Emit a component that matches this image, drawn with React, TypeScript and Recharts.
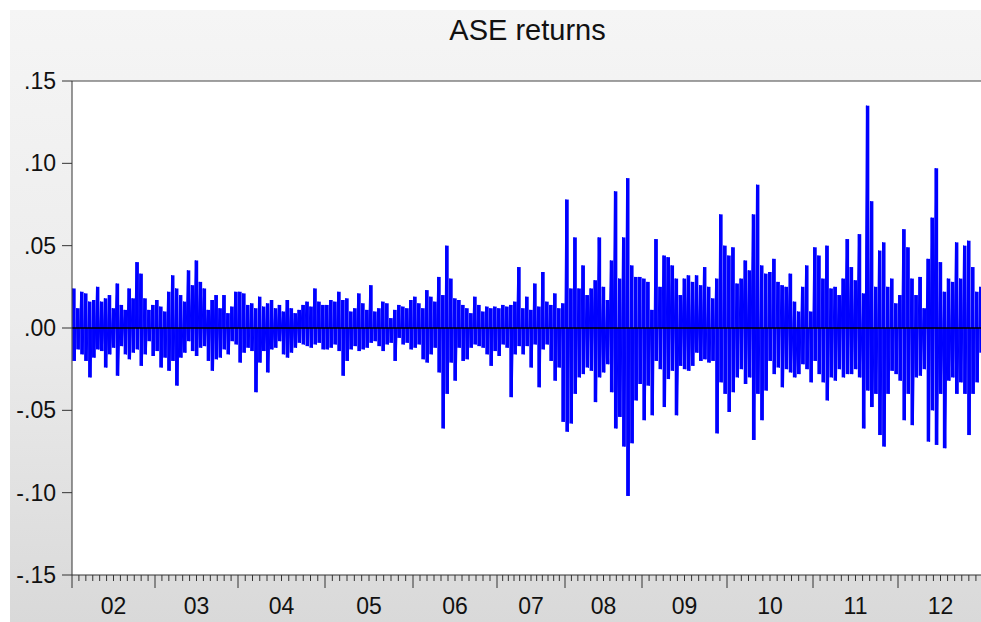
import { ComposedChart, Area, Bar, XAxis, YAxis, CartesianGrid, ReferenceLine } from 'recharts';

// year labels and trading-day counts per year (x axis is observation index)
const years = ['02', '03', '04', '05', '06', '07', '08', '09', '10', '11', '12'];
const yearObs = [249, 249, 261, 264, 252, 204, 231, 255, 258, 255, 255];

// per-year upper / lower swings of daily returns
const hi02 = [.024, .012, .022, .021, .016, .017, .025, .016, .018, .020, .012, .027, .014, .011, .024, .018, .040, .033, .018, .011, .014];
const lo02 = [-.020, -.013, -.016, -.020, -.030, -.018, -.013, -.014, -.024, -.016, -.012, -.029, -.011, -.016, -.019, -.015, -.013, -.023, -.016, -.008, -.017];
const hi03 = [.017, .013, .010, .022, .032, .024, .020, .016, .035, .026, .041, .028, .024, .011, .017, .020, .012, .020, .009, .013, .022];
const lo03 = [-.014, -.024, -.018, -.026, -.020, -.035, -.018, -.015, -.008, -.014, -.017, -.012, -.011, -.020, -.026, -.019, -.018, -.013, -.016, -.008, -.010];
const hi04 = [.022, .021, .014, .015, .012, .019, .013, .015, .017, .012, .014, .010, .017, .012, .009, .011, .014, .016, .013, .024, .016, .014];
const lo04 = [-.021, -.015, -.012, -.014, -.039, -.021, -.014, -.027, -.013, -.012, -.008, -.016, -.018, -.015, -.012, -.009, -.010, -.011, -.012, -.010, -.009, -.013];
const hi05 = [.014, .017, .016, .022, .017, .018, .010, .012, .021, .015, .011, .026, .010, .012, .016, .015, .006, .011, .014, .013, .012, .017];
const lo05 = [-.013, -.012, -.010, -.014, -.029, -.020, -.013, -.011, -.014, -.013, -.012, -.009, -.008, -.011, -.014, -.010, -.009, -.020, -.006, -.010, -.009, -.013];
const hi06 = [.019, .015, .012, .023, .019, .016, .031, .020, .050, .030, .018, .017, .014, .012, .009, .019, .014, .010, .013, .012, .013];
const lo06 = [-.012, -.010, -.019, -.021, -.016, -.012, -.027, -.061, -.040, -.021, -.032, -.012, -.020, -.019, -.012, -.010, -.011, -.012, -.016, -.023, -.014];
const hi07 = [.012, .014, .013, .014, .016, .037, .012, .019, .011, .027, .013, .034, .016, .014, .021, .012, .015];
const lo07 = [-.017, -.010, -.012, -.042, -.016, -.011, -.016, -.011, -.024, -.010, -.036, -.013, -.010, -.020, -.032, -.024, -.057];
const hi08 = [.078, .024, .055, .024, .038, .020, .024, .029, .055, .025, .017, .041, .083, .030, .055, .091, .038, .031, .031];
const lo08 = [-.063, -.058, -.040, -.030, -.028, -.024, -.026, -.045, -.030, -.027, -.022, -.039, -.061, -.054, -.072, -.102, -.070, -.044, -.034];
const hi09 = [.030, .028, .011, .054, .025, .044, .043, .038, .030, .020, .030, .032, .028, .032, .026, .037, .025, .018, .030, .069, .050];
const lo09 = [-.056, -.035, -.053, -.020, -.025, -.048, -.031, -.026, -.053, -.023, -.025, -.026, -.023, -.015, -.020, -.019, -.021, -.020, -.064, -.033, -.040];
const hi10 = [.044, .049, .027, .030, .041, .035, .069, .087, .038, .033, .034, .042, .028, .026, .025, .033, .016, .010, .025, .038, .010];
const lo10 = [-.051, -.039, -.030, -.025, -.034, -.030, -.068, -.040, -.056, -.038, -.020, -.028, -.024, -.036, -.025, -.027, -.030, -.028, -.022, -.025, -.033];
const hi11 = [.049, .044, .030, .050, .024, .025, .020, .030, .054, .037, .029, .057, .021, .135, .077, .025, .047, .052, .025, .030, .015];
const lo11 = [-.020, -.028, -.033, -.044, -.030, -.032, -.025, -.030, -.028, -.028, -.025, -.030, -.061, -.038, -.048, -.040, -.065, -.072, -.040, -.026, -.028];
const hi12 = [.020, .060, .049, .030, .020, .031, .012, .042, .067, .097, .040, .022, .030, .028, .052, .030, .050, .053, .037, .022, .025];
const lo12 = [-.032, -.056, -.040, -.059, -.030, -.029, -.025, -.069, -.050, -.071, -.040, -.073, -.032, -.030, -.040, -.033, -.040, -.065, -.040, -.033, -.015];

const yTicks = [-0.15, -0.1, -0.05, 0, 0.05, 0.1, 0.15];

const hiByYear = [hi02, hi03, hi04, hi05, hi06, hi07, hi08, hi09, hi10, hi11, hi12];
const loByYear = [lo02, lo03, lo04, lo05, lo06, lo07, lo08, lo09, lo10, lo11, lo12];

const yearStart: number[] = [];
let acc = 0;
yearObs.forEach((n) => { yearStart.push(acc); acc += n; });
const totalObs = acc;

// each segment: a range bar (lo..hi) plus a zigzag hi -> lo for the dense core
const data: { t: number; r?: number; range?: [number, number] }[] = [];
years.forEach((_, y) => {
  const hi = hiByYear[y];
  const lo = loByYear[y];
  const w = yearObs[y] / hi.length;
  hi.forEach((v, i) => {
    data.push({ t: yearStart[y] + (i + 0.2) * w, r: v });
    data.push({ t: yearStart[y] + (i + 0.5) * w, range: [lo[i], v] });
    data.push({ t: yearStart[y] + (i + 0.8) * w, r: lo[i] });
  });
});

// monthly tick positions
const monthTicks: number[] = [];
years.forEach((_, y) => {
  for (let m = 0; m < 12; m++) monthTicks.push(yearStart[y] + (m * yearObs[y]) / 12);
});
monthTicks.push(totalObs);

const FONT = '"Liberation Sans", Arial, sans-serif';

function MonthTick(props: any) {
  const { x, y, payload } = props;
  let idx = 0;
  let best = Infinity;
  monthTicks.forEach((t, i) => {
    const d = Math.abs(t - payload.value);
    if (d < best) { best = d; idx = i; }
  });
  const m = idx % 12;
  const yr = Math.floor(idx / 12);
  return (
    <g>
      <line x1={x} x2={x} y1={y} y2={y + (m === 0 ? 13 : 6)} stroke="#333" strokeWidth={1} />
      {m === 6 && yr < years.length && (
        <text x={x} y={y + 39} textAnchor="middle" fontSize={23} fontFamily={FONT} fill="#111">
          {years[yr]}
        </text>
      )}
    </g>
  );
}

// range bar drawn a little wider than the band recharts picks for the dense x data
function RangeShape(props: any) {
  const { x, y, width, height } = props;
  if (height == null || isNaN(height)) return null;
  const cx = x + width / 2;
  return <rect x={cx - 1.7} y={y} width={3.4} height={height} fill="#0000ff" />;
}

const fmtY = (v: number) => {
  const s = Math.abs(v).toFixed(2).slice(1);
  return v < -1e-9 ? '-' + s : s;
};

export default function App() {
  return (
    <div style={{ position: 'absolute', left: 0, top: 0, width: 981, height: 622, overflow: 'hidden', background: '#fff' }}>
      <div
        style={{
          position: 'absolute', left: 10, top: 10, width: 980, height: 612,
          background: 'linear-gradient(to bottom, #f5f5f5 0%, #ececec 50%, #d9d9d9 100%)',
        }}
      />
      <div
        style={{
          position: 'absolute', left: 72, width: 911, top: 14, textAlign: 'center',
          fontFamily: FONT, fontSize: 29, color: '#111',
        }}
      >
        ASE returns
      </div>
      <div style={{ position: 'absolute', left: 0, top: 0 }}>
        <ComposedChart width={990} height={622} data={data} margin={{ top: 81, right: 7, bottom: 0, left: 10 }}>
          <CartesianGrid horizontal={false} vertical={false} fill="#fff" />
          <XAxis
            dataKey="t"
            type="number"
            domain={[0, totalObs]}
            ticks={monthTicks}
            interval={0}
            tick={<MonthTick />}
            tickLine={false}
            tickSize={0}
            tickMargin={0}
            height={47}
            axisLine={{ stroke: '#333' }}
            allowDataOverflow
          />
          <YAxis
            domain={[-0.15, 0.15]}
            ticks={yTicks}
            tickFormatter={fmtY}
            width={62}
            tickSize={10}
            tickMargin={6}
            interval={0}
            axisLine={{ stroke: '#333' }}
            tickLine={{ stroke: '#333' }}
            tick={{ fontSize: 23, fontFamily: FONT, fill: '#111' }}
            allowDataOverflow
          />
          <Bar dataKey="range" fill="#0000ff" shape={<RangeShape />} isAnimationActive={false} />
          <Area
            type="linear"
            dataKey="r"
            baseValue={0}
            connectNulls
            stroke="#0000ff"
            strokeWidth={1}
            fill="#0000ff"
            fillOpacity={1}
            dot={false}
            activeDot={false}
            isAnimationActive={false}
          />
          <ReferenceLine y={0} stroke="#000" strokeWidth={1.5} />
          <ReferenceLine y={0.15} stroke="#444" strokeWidth={1} />
        </ComposedChart>
      </div>
    </div>
  );
}
